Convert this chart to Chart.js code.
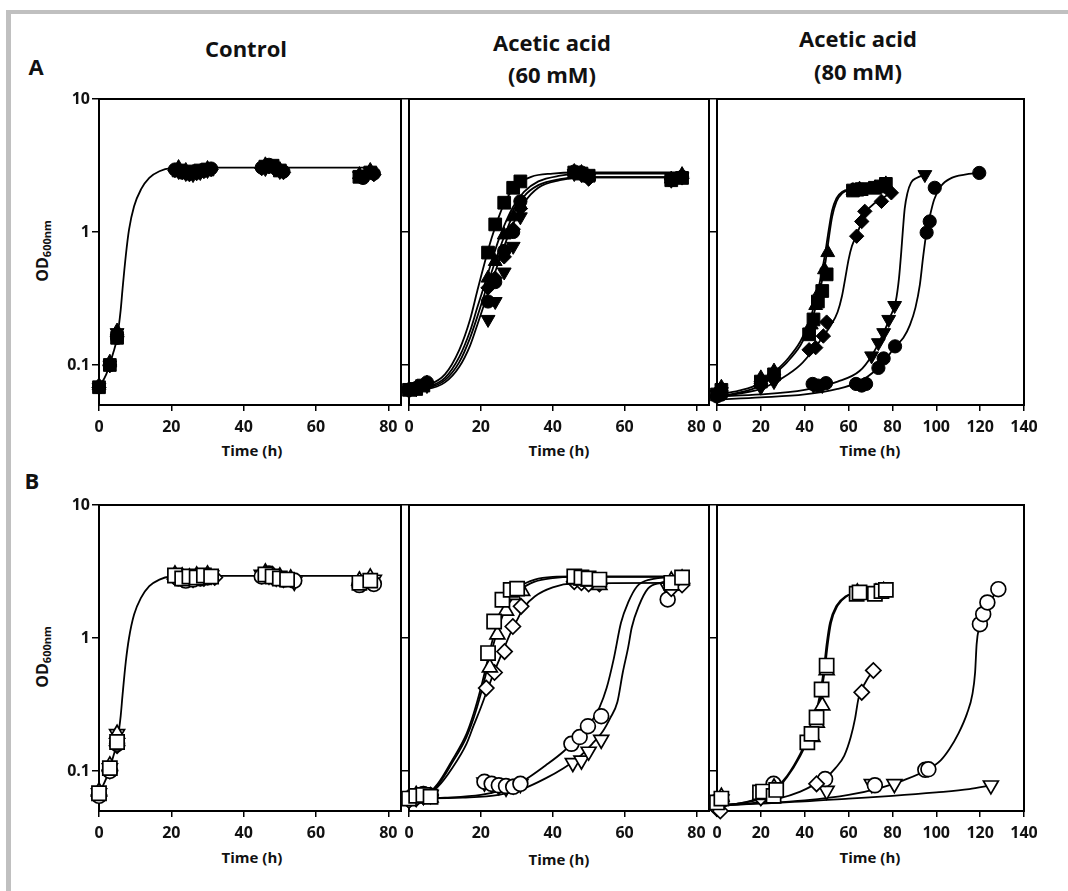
<!DOCTYPE html>
<html>
<head>
<meta charset="utf-8">
<script src="https://cdn.jsdelivr.net/npm/chart.js@4.4.1/dist/chart.umd.min.js"></script>
<style>
  body { margin: 0; background: #fff; width: 1068px; height: 891px; overflow: hidden; position: relative; font-family: 'Open Sans', sans-serif; color: #111; }
  .frameL { position: absolute; left: 6px; top: 10px; width: 5px; height: 881px; background: #c0c0c0; }
  .frameT { position: absolute; left: 6px; top: 10px; width: 1062px; height: 4px; background: #c0c0c0; }
  .lbl { position: absolute; transform: translate(-50%, -50%); font-weight: 700; white-space: nowrap; }
  .ttl { font-size: 22px; }
  .ax { font-size: 15px; }
  .od { position: absolute; transform: translate(-50%, -50%) rotate(-90deg); font-weight: 700; font-size: 16px; white-space: nowrap; }
  .od sub { font-size: 11px; vertical-align: -3px; }
  canvas { position: absolute; }
</style>
</head>
<body>
<div class="frameL"></div>
<div class="frameT"></div>

<div class="lbl ttl" style="left:36px;top:66px">A</div>
<div class="lbl ttl" style="left:32px;top:480px">B</div>
<div class="lbl ttl" style="left:246px;top:48px">Control</div>
<div class="lbl ttl" style="left:552px;top:42px">Acetic acid</div>
<div class="lbl ttl" style="left:552px;top:74px">(60 mM)</div>
<div class="lbl ttl" style="left:858px;top:38px">Acetic acid</div>
<div class="lbl ttl" style="left:858px;top:71px">(80 mM)</div>

<div class="od" style="left:42px;top:251px">OD<sub>600nm</sub></div>
<div class="od" style="left:42px;top:657px">OD<sub>600nm</sub></div>

<div class="lbl ax" style="left:252px;top:450px">Time (h)</div>
<div class="lbl ax" style="left:559px;top:450px">Time (h)</div>
<div class="lbl ax" style="left:870px;top:450px">Time (h)</div>
<div class="lbl ax" style="left:252px;top:857px">Time (h)</div>
<div class="lbl ax" style="left:559px;top:859px">Time (h)</div>
<div class="lbl ax" style="left:870px;top:857px">Time (h)</div>

<script>
// tick values
const yTicks = [0.1, 1, 10];
const xTicks80 = [0, 20, 40, 60, 80];
const xTicks140 = [0, 20, 40, 60, 80, 100, 120, 140];

// ---- A: control (filled symbols) ----
const a1Square = [[0,0.068],[3,0.1],[5,0.16],[22,2.9],[24,2.8],[26,2.85],[28,2.9],[30,2.95],[46,3.1],[48,3.15],[50,2.9],[72,2.6],[75,2.8]];
const a1Circle = [[0,0.068],[3,0.1],[5,0.16],[21,2.95],[23,2.85],[25,2.75],[27,2.8],[29,2.9],[31,3.0],[45,3.05],[47,3.2],[49,3.0],[51,2.85],[73,2.55],[76,2.75]];
const a1Tri = [[0,0.07],[3,0.105],[5,0.18],[22,3.05],[24,2.9],[26,2.8],[28,2.85],[30,3.0],[46,3.2],[48,3.05],[50,2.95],[72,2.7],[75,2.9]];
const a1InvTri = [[0,0.068],[3,0.1],[5,0.175],[22,2.85],[24,2.75],[26,2.7],[28,2.8],[30,2.9],[46,3.0],[48,3.1],[50,2.85],[72,2.65],[75,2.85]];
const a1Diamond = [[0,0.068],[3,0.1],[5,0.165],[21,2.9],[23,2.8],[25,2.7],[27,2.75],[29,2.85],[31,2.95],[45,3.0],[47,3.1],[49,2.95],[51,2.8],[73,2.6],[76,2.7]];
const a1Fit = [[0,0.068],[2,0.085],[4,0.125],[5,0.16],[6,0.26],[6.5,0.37],[7.4,0.66],[8.3,1.04],[9.7,1.56],[11.6,2.09],[13.9,2.55],[16.7,2.86],[20,3.02],[25,3.05],[75,3.05]];

// ---- A: acetic acid 60 mM ----
const a2Square = [[0,0.065],[2,0.066],[4,0.07],[22,0.7],[24,1.14],[26.5,1.66],[29,2.15],[31,2.4],[46,2.8],[48,2.75],[50,2.65],[73,2.45],[76,2.55]];
const a2Tri = [[0,0.066],[2,0.068],[5,0.073],[22,0.45],[24,0.6],[26.5,0.95],[29,1.3],[31,1.6],[46,2.85],[48,2.8],[50,2.6],[73,2.5],[76,2.7]];
const a2InvTri = [[0,0.064],[2,0.066],[5,0.07],[22,0.22],[24,0.3],[26.5,0.5],[29,0.78],[31,1.3],[46,2.75],[48,2.7],[50,2.55],[73,2.45],[76,2.6]];
const a2Diamond = [[0,0.065],[2,0.067],[5,0.072],[22,0.38],[24,0.45],[26.5,0.65],[29,1.05],[31,1.5],[46,2.8],[48,2.7],[50,2.5],[73,2.5],[76,2.55]];
const a2Circle = [[0,0.065],[2,0.067],[5,0.074],[22,0.3],[24,0.42],[26.5,0.72],[29,1.0],[31,1.7],[46,2.85],[48,2.8],[50,2.6],[73,2.45],[76,2.6]];
const a2Fit1 = [[0,0.065],[5,0.07],[10,0.085],[14,0.13],[17,0.22],[19,0.36],[21,0.58],[23,0.9],[25,1.3],[27,1.75],[30,2.25],[34,2.6],[40,2.75],[46,2.8],[75,2.8]];
const a2Fit2 = [[0,0.065],[5,0.068],[10,0.08],[14,0.115],[17,0.18],[19,0.27],[21,0.4],[23,0.6],[25,0.88],[27,1.2],[29,1.55],[32,2.0],[36,2.4],[42,2.65],[48,2.75],[75,2.75]];
const a2Fit3 = [[0,0.065],[5,0.067],[10,0.077],[14,0.105],[17,0.16],[19,0.23],[21,0.34],[23,0.5],[25,0.72],[27,1.0],[29,1.35],[32,1.85],[36,2.25],[42,2.5],[48,2.58],[75,2.58]];
const a2Fit4 = [[0,0.065],[5,0.066],[10,0.074],[14,0.097],[17,0.14],[19,0.2],[21,0.29],[23,0.42],[25,0.6],[27,0.85],[29,1.15],[32,1.65],[36,2.15],[42,2.45],[48,2.58],[75,2.58]];

// ---- A: acetic acid 80 mM ----
const a3Square = [[0,0.06],[2,0.065],[20,0.075],[26,0.085],[42,0.17],[44,0.22],[46,0.3],[48,0.36],[50,0.48],[62,2.05],[64,2.08],[66,2.1],[72,2.15],[75,2.2],[77,2.3]];
const a3Tri = [[0,0.062],[2,0.068],[20,0.08],[26,0.09],[43,0.2],[45,0.28],[47,0.36],[49,0.52],[50.5,0.7],[62,2.05],[65,2.1],[72,2.15],[75,2.25],[77,2.3]];
const a3Diamond = [[0,0.058],[2,0.062],[20,0.07],[26,0.078],[42,0.13],[45,0.135],[48.5,0.165],[50,0.21],[63.7,0.93],[66,1.2],[67.4,1.43],[75,1.7],[79.5,1.97]];
const a3InvTri = [[0,0.06],[2,0.063],[20,0.068],[26,0.075],[44,0.07],[48,0.07],[70.5,0.117],[73.6,0.147],[76,0.175],[78.3,0.22],[81,0.28],[94.8,2.7]];
const a3Circle = [[0,0.058],[2,0.06],[43.6,0.072],[46,0.07],[49.7,0.073],[63.4,0.072],[66,0.07],[68,0.072],[73.6,0.095],[76,0.112],[81.2,0.138],[95.6,0.99],[97,1.2],[99.3,2.15],[119.6,2.78]];
const a3FitSq = [[0,0.058],[10,0.062],[20,0.07],[26,0.085],[32,0.105],[38,0.14],[42,0.19],[45,0.27],[47.5,0.4],[49.5,0.6],[51,0.9],[52.5,1.3],[54.5,1.7],[57,1.95],[61,2.08],[68,2.15],[78,2.25]];
const a3FitTri = [[0,0.06],[10,0.064],[20,0.073],[26,0.088],[32,0.11],[38,0.15],[42,0.21],[45,0.31],[47.5,0.47],[49.5,0.72],[51,1.05],[52.5,1.45],[54.5,1.8],[57,2.0],[61,2.1],[68,2.15],[78,2.25]];
const a3FitDia = [[0,0.058],[10,0.061],[20,0.066],[30,0.08],[38,0.1],[44,0.13],[48.5,0.165],[52,0.2],[55,0.25],[57,0.33],[58.5,0.45],[60,0.62],[61.5,0.78],[63.7,0.95],[66,1.2],[68,1.42],[72,1.65],[76,1.82],[79.5,1.97]];
const a3FitInv = [[0,0.058],[20,0.06],[40,0.065],[55,0.075],[65,0.09],[70.5,0.117],[76,0.175],[79,0.23],[81.5,0.3],[83,0.45],[84,0.7],[84.8,1.05],[85.6,1.5],[86.8,1.95],[88.5,2.35],[91,2.55],[94.8,2.7]];
const a3FitCir = [[0,0.055],[20,0.057],[40,0.06],[55,0.066],[65,0.075],[72,0.09],[77,0.11],[81.2,0.138],[85,0.16],[88,0.2],[90.5,0.27],[92.5,0.4],[94,0.65],[95.5,0.99],[97,1.3],[99,1.75],[102,2.2],[107,2.55],[113,2.7],[119.6,2.78]];

// ---- B: control (open symbols) ----
const b1Square = [[0,0.068],[3,0.105],[5,0.165],[21,2.95],[23,2.8],[25,2.9],[27,2.85],[29,2.95],[31,2.9],[46,3.0],[48,2.9],[50,2.8],[52,2.75],[72,2.6],[75,2.7]];
const b1Circle = [[0,0.065],[3,0.1],[5,0.16],[22,2.8],[24,2.7],[26,2.75],[28,2.8],[30,2.85],[45,2.9],[47,3.05],[49,2.85],[51,2.75],[54,2.7],[72,2.5],[76,2.55]];
const b1Tri = [[0,0.07],[3,0.11],[5,0.19],[21,3.0],[23,2.9],[25,2.85],[27,2.95],[30,3.0],[46,3.1],[48,2.95],[50,2.9],[53,2.8],[72,2.7],[75,2.85]];
const b1InvTri = [[0,0.068],[3,0.105],[5,0.19],[22,2.95],[24,2.85],[26,2.8],[28,2.9],[31,2.95],[45,3.0],[47,2.95],[49,2.85],[51,2.8],[54,2.65],[73,2.65],[76,2.75]];
const b1Diamond = [[0,0.066],[3,0.1],[5,0.155],[21,2.85],[23,2.75],[25,2.8],[27,2.9],[29,2.8],[32,2.85],[46,2.95],[48,2.85],[50,2.8],[53,2.75],[73,2.55],[75,2.6]];
const b1Fit = [[0,0.068],[2,0.088],[4,0.13],[5,0.165],[6,0.26],[6.5,0.37],[7.4,0.66],[8.3,1.0],[9.7,1.5],[11.6,2.0],[13.9,2.45],[16.7,2.75],[20,2.9],[25,2.93],[75,2.93]];

// ---- B: acetic acid 60 mM ----
const b2Square = [[0,0.062],[2,0.065],[4,0.066],[6,0.064],[22,0.77],[23.7,1.33],[26,1.94],[28.3,2.3],[30.1,2.35],[46,2.9],[48,2.85],[50,2.8],[53,2.75],[73,2.6],[76,2.85]];
const b2Tri = [[0,0.063],[2,0.066],[4,0.065],[6,0.063],[22.5,0.6],[24.6,1.06],[27,1.6],[29,2.1],[31.5,2.25],[46,2.75],[48,2.7],[50,2.65],[53,2.5],[73,2.7],[76,2.8]];
const b2Diamond = [[0,0.06],[2,0.062],[4,0.064],[6,0.066],[21.5,0.42],[23.8,0.55],[26.6,0.79],[28.9,1.22],[31.2,1.73],[46,2.65],[48,2.6],[50,2.55],[53,2.55],[73,2.35],[76,2.5]];
const b2Circle = [[0,0.062],[2,0.064],[4,0.067],[6,0.065],[21,0.083],[23,0.08],[25,0.078],[27,0.077],[29,0.076],[31,0.08],[45.2,0.16],[47.5,0.18],[49.8,0.217],[53.5,0.258],[72,1.95],[75,2.6]];
const b2InvTri = [[0,0.061],[2,0.063],[4,0.065],[6,0.066],[21,0.082],[23,0.08],[25,0.077],[27,0.075],[29,0.078],[31,0.08],[45.6,0.115],[48,0.12],[50,0.14],[53.5,0.172],[72,2.4],[75,2.7]];
const b2FitSq = [[0,0.062],[4,0.064],[8,0.08],[12,0.12],[16,0.19],[18,0.27],[20,0.42],[22,0.7],[24,1.15],[26,1.6],[28,2.0],[31,2.45],[35,2.75],[40,2.88],[46,2.9],[75,2.9]];
const b2FitTri = [[0,0.062],[4,0.064],[8,0.078],[12,0.115],[16,0.18],[18,0.25],[20,0.38],[22,0.62],[24,1.0],[26,1.45],[28,1.85],[31,2.3],[35,2.65],[40,2.82],[46,2.88],[75,2.88]];
const b2FitDia = [[0,0.062],[4,0.064],[8,0.076],[12,0.105],[16,0.16],[18,0.22],[20,0.3],[22,0.42],[24,0.58],[26,0.78],[28,1.05],[30,1.35],[32,1.7],[35,2.05],[40,2.4],[46,2.57],[75,2.6]];
const b2FitCir = [[0,0.062],[10,0.063],[20,0.066],[26,0.072],[32,0.085],[38,0.11],[43,0.14],[47,0.18],[50,0.22],[53,0.3],[55,0.42],[57,0.7],[59,1.3],[61,1.85],[63.5,2.45],[67,2.75],[75,2.88]];
const b2FitInv = [[0,0.062],[15,0.063],[25,0.066],[32,0.074],[38,0.088],[43,0.105],[47,0.125],[51,0.16],[54,0.2],[56,0.25],[58,0.33],[59.5,0.55],[61,0.85],[62,1.2],[64,1.75],[66.5,2.35],[70,2.6],[75,2.75]];

// ---- B: acetic acid 80 mM ----
const b3Square = [[0,0.058],[2,0.062],[19.6,0.069],[21,0.07],[25.8,0.065],[27,0.072],[41.2,0.164],[43.1,0.19],[45.4,0.253],[47.7,0.41],[50,0.62],[63.7,2.15],[65,2.2],[72,2.15],[75,2.25],[77,2.3]];
const b3Tri = [[0,0.06],[2,0.064],[20,0.066],[26,0.075],[43.5,0.18],[45.5,0.23],[48,0.31],[50,0.57],[64,2.2],[72.5,2.2],[76,2.25]];
const b3Diamond = [[0,0.052],[1.5,0.05],[20,0.063],[26,0.068],[45.4,0.08],[66,0.39],[71.3,0.57]];
const b3Circle = [[0,0.055],[2,0.06],[25.8,0.08],[49.3,0.087],[72,0.078],[95,0.102],[96.4,0.103],[119.9,1.27],[121.4,1.51],[123.3,1.85],[128.3,2.33]];
const b3InvTri = [[0,0.058],[2,0.061],[20,0.064],[26,0.07],[50,0.071],[70.6,0.08],[80.9,0.08],[124.9,0.078]];
const b3FitSq = [[0,0.055],[10,0.057],[20,0.062],[26,0.07],[32,0.09],[38,0.13],[42,0.18],[45,0.25],[47,0.35],[49,0.55],[50.5,0.9],[52,1.3],[55,1.75],[59,2.05],[65,2.2],[78,2.25]];
const b3FitTri = [[0,0.055],[10,0.057],[20,0.063],[26,0.072],[32,0.092],[38,0.135],[42,0.19],[45,0.27],[47,0.38],[48.7,0.58],[50,0.9],[51.5,1.3],[54.5,1.75],[58.5,2.05],[65,2.2],[78,2.25]];
const b3FitDia = [[0,0.055],[15,0.057],[28,0.062],[38,0.07],[45,0.08],[50,0.09],[54,0.105],[58,0.13],[61,0.18],[63,0.25],[64.5,0.35],[66,0.41],[68.5,0.49],[71.3,0.57]];
const b3FitCir = [[0,0.055],[20,0.057],[40,0.06],[60,0.066],[75,0.075],[85,0.085],[96.4,0.103],[102,0.12],[106,0.146],[110,0.19],[114,0.27],[116.5,0.38],[117.7,0.55],[118.4,0.9],[119.5,1.2],[121.5,1.55],[124.5,1.9],[128.3,2.3]];
const b3FitInv = [[0,0.055],[20,0.057],[40,0.059],[60,0.062],[80,0.065],[100,0.069],[115,0.073],[125,0.078]];

// ---- drawing ----
Chart.defaults.font.family = "'Open Sans', sans-serif";
Chart.defaults.color = '#111';

// symbol shapes: [filled radius, open radius]
const SYMBOL = {
  square: { style: 'rect', rot: 0, r: [9, 10] },
  circle: { style: 'circle', rot: 0, r: [6.6, 7.4] },
  tri: { style: 'triangle', rot: 0, r: [8, 8.6] },
  invTri: { style: 'triangle', rot: 180, r: [8, 8.6] },
  diamond: { style: 'rectRot', rot: 0, r: [7.2, 7.6] }
};

const toXY = pts => pts.map(([x, y]) => ({ x, y }));

function markers(pts, kind, open) {
  const s = SYMBOL[kind];
  const r = s.r[open ? 1 : 0];
  return {
    data: toXY(pts), showLine: false, clip: false,
    pointStyle: s.style, rotation: s.rot, pointRadius: r, pointHoverRadius: r,
    backgroundColor: open ? '#fff' : '#000', borderColor: '#000', borderWidth: open ? 1.7 : 1
  };
}

function fit(pts) {
  return {
    data: toXY(pts), showLine: true, clip: false, pointRadius: 0,
    borderColor: '#000', borderWidth: 1.8, cubicInterpolationMode: 'monotone', fill: false
  };
}

const boxPlugin = {
  id: 'box',
  beforeDatasetsDraw(chart) {
    const a = chart.chartArea, ctx = chart.ctx;
    ctx.save();
    ctx.lineWidth = 2;
    ctx.strokeStyle = '#000';
    ctx.strokeRect(a.left, a.top, a.right - a.left, a.bottom - a.top);
    ctx.restore();
  }
};

const COLS = [[99, 401], [409, 709], [717, 1024]];
const ROWS = [[99, 405], [505, 811]];

function panel(col, row, xMax, xTicks, datasets) {
  const [l, r] = COLS[col], [t, b] = ROWS[row];
  const YW = 44, PT = 14, PR = 26, XH = 40;
  const cv = document.createElement('canvas');
  cv.width = YW + (r - l) + PR;
  cv.height = PT + (b - t) + XH;
  cv.style.left = (l - YW) + 'px';
  cv.style.top = (t - PT) + 'px';
  document.body.appendChild(cv);

  new Chart(cv, {
    type: 'scatter',
    data: { datasets },
    plugins: [boxPlugin],
    options: {
      responsive: false, animation: false, devicePixelRatio: 1,
      layout: { padding: { left: 0, top: PT, right: PR, bottom: 0 } },
      plugins: { legend: { display: false }, tooltip: { enabled: false } },
      scales: {
        x: {
          type: 'linear', min: 0, max: xMax,
          afterFit: s => { s.height = XH; },
          afterBuildTicks: s => { s.ticks = xTicks.map(v => ({ value: v })); },
          border: { display: false },
          grid: { drawOnChartArea: false, drawTicks: true, tickLength: 6, color: '#000', lineWidth: 1.5 },
          ticks: { font: { size: 16, weight: 'bold' }, padding: 7, color: '#111', maxRotation: 0 }
        },
        y: {
          type: 'logarithmic', min: 0.05, max: 10,
          afterFit: s => { s.width = YW; },
          afterBuildTicks: s => { s.ticks = yTicks.map(v => ({ value: v })); },
          border: { display: false },
          grid: { drawOnChartArea: false, drawTicks: true, tickLength: 7, color: '#000', lineWidth: 1.5 },
          ticks: {
            font: { size: 16, weight: 'bold' }, padding: 2, color: '#111',
            callback: v => col === 0 ? String(v) : ''
          }
        }
      }
    }
  });
}

panel(0, 0, 83.5, xTicks80, [
  markers(a1Square, 'square'), markers(a1Circle, 'circle'), markers(a1Tri, 'tri'),
  markers(a1InvTri, 'invTri'), markers(a1Diamond, 'diamond'), fit(a1Fit)
]);
panel(1, 0, 83.5, xTicks80, [
  markers(a2Square, 'square'), markers(a2Tri, 'tri'), markers(a2InvTri, 'invTri'),
  markers(a2Diamond, 'diamond'), markers(a2Circle, 'circle'),
  fit(a2Fit1), fit(a2Fit2), fit(a2Fit3), fit(a2Fit4)
]);
panel(2, 0, 140, xTicks140, [
  markers(a3Square, 'square'), markers(a3Tri, 'tri'), markers(a3Diamond, 'diamond'),
  markers(a3InvTri, 'invTri'), markers(a3Circle, 'circle'),
  fit(a3FitSq), fit(a3FitTri), fit(a3FitDia), fit(a3FitInv), fit(a3FitCir)
]);
panel(0, 1, 83.5, xTicks80, [
  markers(b1Square, 'square', true), markers(b1Circle, 'circle', true), markers(b1Tri, 'tri', true),
  markers(b1InvTri, 'invTri', true), markers(b1Diamond, 'diamond', true), fit(b1Fit)
]);
panel(1, 1, 83.5, xTicks80, [
  markers(b2Square, 'square', true), markers(b2Tri, 'tri', true), markers(b2Diamond, 'diamond', true),
  markers(b2Circle, 'circle', true), markers(b2InvTri, 'invTri', true),
  fit(b2FitSq), fit(b2FitTri), fit(b2FitDia), fit(b2FitCir), fit(b2FitInv)
]);
panel(2, 1, 140, xTicks140, [
  markers(b3Square, 'square', true), markers(b3Tri, 'tri', true), markers(b3Diamond, 'diamond', true),
  markers(b3Circle, 'circle', true), markers(b3InvTri, 'invTri', true),
  fit(b3FitSq), fit(b3FitTri), fit(b3FitDia), fit(b3FitCir), fit(b3FitInv)
]);
</script>
</body>
</html>
